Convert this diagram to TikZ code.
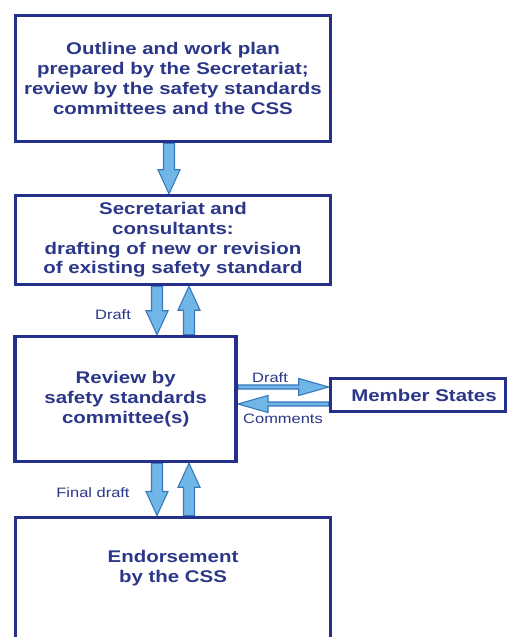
\documentclass[tikz,border=0pt]{standalone}
\usepackage{fontspec}
\setmainfont{Liberation Sans}[FakeStretch=1.21]
\usetikzlibrary{calc}
\definecolor{boxblue}{HTML}{25308A}
\definecolor{txtblue}{HTML}{2B3788}
\definecolor{arrfill}{HTML}{70B6E6}
\definecolor{arrline}{HTML}{3878BC}
\pgfdeclarelayer{paper}
\pgfdeclarelayer{arrowlayer}
\pgfsetlayers{paper,arrowlayer,main}
\begin{document}
\begin{tikzpicture}[x=1pt,y=-1pt,
  box/.style={draw=boxblue, line width=3.5pt, fill=white, align=center, text=txtblue,
    font=\bfseries\fontsize{16.9}{19.7}\selectfont, inner sep=0pt},
  boxtext/.style={align=center, text=txtblue, font=\bfseries\fontsize{16.9}{19.7}\selectfont, inner sep=0pt},
  lbl/.style={text=txtblue, font=\fontsize{13.6}{16}\selectfont, inner sep=0pt},
  blk/.style={fill=arrfill, draw=arrline, line width=1.1pt, line join=miter},
  vblock/.style={to path={let \p1=(\tikztostart), \p2=(\tikztotarget),
    \n1={(\y2-\y1)/abs(\y2-\y1)} in
    ({\x1-5.5pt},{\y1}) -- ({\x1-5.5pt},{\y2-(\n1)*24pt}) -- ({\x1-11pt},{\y2-(\n1)*24pt}) -- ({\x1},{\y2})
    -- ({\x1+11pt},{\y2-(\n1)*24pt}) -- ({\x1+5.5pt},{\y2-(\n1)*24pt}) -- ({\x1+5.5pt},{\y1}) -- cycle}},
  hblock/.style={to path={let \p1=(\tikztostart), \p2=(\tikztotarget),
    \n1={(\x2-\x1)/abs(\x2-\x1)} in
    ({\x1},{\y1-2pt}) -- ({\x2-(\n1)*30pt},{\y1-2pt}) -- ({\x2-(\n1)*30pt},{\y1-8.5pt}) -- ({\x2},{\y1})
    -- ({\x2-(\n1)*30pt},{\y1+8.5pt}) -- ({\x2-(\n1)*30pt},{\y1+2pt}) -- ({\x1},{\y1+2pt}) -- cycle}}
]
\useasboundingbox (0,0) rectangle (509,637);
\begin{pgfonlayer}{paper}
\fill[white] (0,0) rectangle (509,637);
\end{pgfonlayer}
\clip (0,0) rectangle (509,637);

\node[box, minimum width=315pt, minimum height=126pt] (b1) at (173,78.5)
  {Outline and work plan\\prepared by the Secretariat;\\review by the safety standards\\committees and the CSS};
\node[box, minimum width=315pt, minimum height=89pt] (b2) at (173,240)
  {Secretariat and\\consultants:\\drafting of new or revision\\of existing safety standard};
\node[box, minimum width=221pt, minimum height=125pt] (b3) at (125.7,399)
  {Review by\\safety standards\\committee(s)};
\node[box, minimum width=175pt, minimum height=33pt] (ms) at (418,395) {\hspace*{12pt}Member States};
\node[box, minimum width=315pt, minimum height=170pt, anchor=north] (b4) at (173,515.5) {};
\node[boxtext] (t4) at (173,568) {Endorsement\\by the CSS};

\coordinate (a1) at ([xshift=-4pt]b1.south);
\coordinate (dl) at ([xshift=-16pt]b2.south);
\coordinate (dr) at ([xshift=16pt]b2.south);
\coordinate (fl) at ([xshift=-16pt]b4.north);
\coordinate (fr) at ([xshift=16pt]b4.north);
\coordinate (hd) at ([yshift=8pt]ms.west);
\coordinate (hc) at ([yshift=-9pt]ms.west);

\begin{pgfonlayer}{arrowlayer}
\draw[blk] (a1) to[vblock] (a1 |- b2.north);
\draw[blk] (dl) to[vblock] (dl |- b3.north);
\draw[blk] (dr |- b3.north) to[vblock] (dr);
\draw[blk] (fl |- b3.south) to[vblock] (fl);
\draw[blk] (fr) to[vblock] (fr |- b3.south);
\draw[blk] (b3.east |- hd) to[hblock] (hd);
\draw[blk] (hc) to[hblock] (b3.east |- hc);
\end{pgfonlayer}

\node[lbl] (ld) at (113,315) {Draft};
\node[lbl] (ld2) at (270,378) {Draft};
\node[lbl] (lc) at (283,419) {Comments};
\node[lbl] (lf) at (93,493) {Final draft};
\end{tikzpicture}
\end{document}
